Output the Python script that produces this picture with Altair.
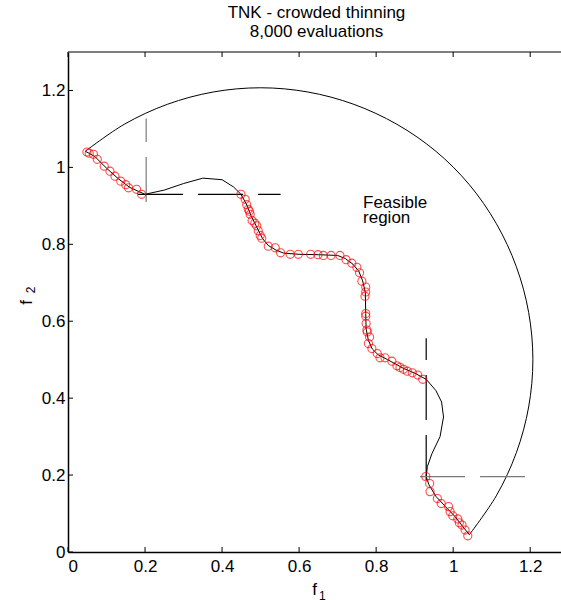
import altair as alt
import pandas as pd

# ---------------- data ----------------
TITLE = ["TNK - crowded thinning", "8,000 evaluations"]
X_TITLE, X_SUB = "f", "1"
Y_TITLE, Y_SUB = "f", "2"
REGION_TEXT = ["Feasible", "region"]
TICKS = [0, 0.2, 0.4, 0.6, 0.8, 1.0, 1.2]

# outer boundary of the feasible region (arc)
arc_f1 = [0.045, 0.146, 0.258, 0.377, 0.500, 0.623, 0.742, 0.854, 0.955,
          1.042, 1.112, 1.164, 1.196, 1.207, 1.196, 1.164, 1.112, 1.042]
arc_f2 = [1.042, 1.112, 1.164, 1.196, 1.207, 1.196, 1.164, 1.112, 1.042,
          0.955, 0.854, 0.742, 0.623, 0.500, 0.377, 0.258, 0.146, 0.045]

# inner (wavy) constraint boundary
bnd_f1 = [0.045, 0.070, 0.100, 0.130, 0.160, 0.200, 0.250, 0.300, 0.350, 0.400,
          0.430, 0.449, 0.463, 0.475, 0.490, 0.505, 0.520, 0.540, 0.560, 0.600,
          0.650, 0.700, 0.720, 0.740, 0.755, 0.765, 0.772, 0.773, 0.774, 0.780,
          0.790, 0.805, 0.830, 0.870, 0.900, 0.930, 0.955, 0.970, 0.975, 0.966,
          0.945, 0.933, 0.930, 0.937, 0.955, 0.980, 1.005, 1.025, 1.042]
bnd_f2 = [1.042, 1.028, 0.998, 0.971, 0.948, 0.930, 0.941, 0.958, 0.972, 0.968,
          0.949, 0.930, 0.905, 0.875, 0.845, 0.815, 0.797, 0.785, 0.777, 0.774,
          0.773, 0.771, 0.763, 0.748, 0.730, 0.705, 0.675, 0.620, 0.580, 0.550,
          0.528, 0.513, 0.500, 0.478, 0.465, 0.449, 0.420, 0.390, 0.351, 0.300,
          0.256, 0.222, 0.196, 0.175, 0.145, 0.118, 0.092, 0.066, 0.045]

# obtained solutions (red circles)
pts_f1 = [0.049, 0.055, 0.066, 0.076, 0.094, 0.109, 0.122, 0.137, 0.150, 0.157,
          0.178, 0.191,
          0.449, 0.460, 0.464, 0.468, 0.471, 0.473, 0.478, 0.485, 0.490, 0.494,
          0.499, 0.503, 0.520, 0.538, 0.552, 0.577, 0.598, 0.630, 0.649, 0.663,
          0.683, 0.706, 0.722, 0.737, 0.750, 0.757, 0.763, 0.773, 0.773, 0.771,
          0.773, 0.773, 0.774, 0.776, 0.777, 0.783, 0.780, 0.789, 0.803, 0.810,
          0.823, 0.841, 0.854, 0.862, 0.871, 0.881, 0.894, 0.908, 0.921,
          0.929, 0.939, 0.940, 0.959, 0.969, 0.988, 0.992, 0.999, 1.012, 1.016,
          1.023, 1.031, 1.038]
pts_f2 = [1.040, 1.037, 1.034, 1.021, 1.003, 0.990, 0.977, 0.964, 0.955, 0.947,
          0.943, 0.930,
          0.930, 0.917, 0.903, 0.891, 0.886, 0.878, 0.862, 0.855, 0.848, 0.835,
          0.823, 0.816, 0.795, 0.791, 0.778, 0.774, 0.774, 0.774, 0.773, 0.771,
          0.771, 0.771, 0.760, 0.751, 0.740, 0.726, 0.704, 0.689, 0.676, 0.665,
          0.620, 0.613, 0.594, 0.577, 0.572, 0.559, 0.542, 0.529, 0.516, 0.505,
          0.505, 0.496, 0.484, 0.480, 0.475, 0.470, 0.466, 0.460, 0.449,
          0.196, 0.178, 0.157, 0.139, 0.126, 0.118, 0.105, 0.094, 0.086, 0.076,
          0.070, 0.057, 0.042]

# dashed guide lines (start, end)
dash_seg = ["v1", "h1", "v2", "h2"]
dash_f1a = [0.203, 0.182, 0.930, 0.914]
dash_f2a = [0.910, 0.930, 0.187, 0.196]
dash_f1b = [0.203, 0.552, 0.930, 1.187]
dash_f2b = [1.127, 0.930, 0.556, 0.196]
dash_col = ["#7a7a7a", "#000000", "#000000", "#7a7a7a"]

# ---------------- tables ----------------
arc_df = pd.DataFrame({"f1": arc_f1, "f2": arc_f2, "i": range(len(arc_f1))})
bnd_df = pd.DataFrame({"f1": bnd_f1, "f2": bnd_f2, "i": range(len(bnd_f1))})
pts_df = pd.DataFrame({"f1": pts_f1, "f2": pts_f2})
rows = []
for s, xa, ya, xb, yb in zip(dash_seg, dash_f1a, dash_f2a, dash_f1b, dash_f2b):
    rows.append({"seg": s, "f1": xa, "f2": ya, "i": 0})
    rows.append({"seg": s, "f1": xb, "f2": yb, "i": 1})
dash_df = pd.DataFrame(rows)

XMAX, YMAX = 1.28, 1.3
TL = 0.013  # inward tick length in data units
tick_rows = []
for t in TICKS:
    tick_rows.append({"x": t, "x2": t, "y": 0, "y2": TL})
    tick_rows.append({"x": t, "x2": t, "y": YMAX - TL, "y2": YMAX})
    tick_rows.append({"x": 0, "x2": TL, "y": t, "y2": t})
tick_df = pd.DataFrame(tick_rows)
frame_df = pd.DataFrame({"x": [0], "x2": [XMAX], "y": [YMAX], "y2": [YMAX]})

FONT = "Liberation Sans"
FS = 17
xscale = alt.Scale(domain=[0, XMAX], nice=False, zero=False)
yscale = alt.Scale(domain=[0, YMAX], nice=False, zero=False)
xaxis = alt.Axis(values=TICKS, format="~g", title=X_TITLE, ticks=False,
                 domainColor="black", domainWidth=1.5, labelPadding=6,
                 titleX=246, titleY=42, titleBaseline="alphabetic",
                 titleAlign="center")
yaxis = alt.Axis(values=TICKS, format="~g", title=Y_TITLE, ticks=False,
                 domainColor="black", domainWidth=1.5, labelPadding=3,
                 titleX=-37, titleY=250, titleAngle=270,
                 titleBaseline="alphabetic", titleAlign="center")


def X(field="f1"):
    return alt.X(f"{field}:Q", scale=xscale, axis=xaxis)


def Y(field="f2"):
    return alt.Y(f"{field}:Q", scale=yscale, axis=yaxis)


arc = alt.Chart(arc_df).mark_line(color="black", strokeWidth=1,
                                  interpolate="catmull-rom").encode(
    x=X(), y=Y(), order="i:Q")
bnd = alt.Chart(bnd_df).mark_line(color="black", strokeWidth=1).encode(
    x=X(), y=Y(), order="i:Q")
dash = alt.Chart(dash_df).mark_line(strokeWidth=1.2, strokeDash=[45, 15]).encode(
    x=X(), y=Y(), order="i:Q",
    color=alt.Color("seg:N", scale=alt.Scale(domain=dash_seg, range=dash_col),
                    legend=None))
pts = alt.Chart(pts_df).mark_point(shape="circle", filled=False, color="#ff0000",
                                   size=66, strokeWidth=1.1).encode(x=X(), y=Y())
ticks = alt.Chart(tick_df).mark_rule(color="black", strokeWidth=1).encode(
    x=X("x"), x2="x2:Q", y=Y("y"), y2="y2:Q")
frame = alt.Chart(frame_df).mark_rule(color="black", strokeWidth=1.2).encode(
    x=X("x"), x2="x2:Q", y=Y("y"))
region = alt.Chart(pd.DataFrame({"f1": [0.766], "f2": [0.894],
                                 "t": ["\n".join(REGION_TEXT)]})).mark_text(
    align="left", baseline="alphabetic", fontSize=FS, font=FONT, color="black",
    lineBreak="\n", lineHeight=15).encode(x=X(), y=Y(), text="t:N")

# subscripts of the axis titles
xsub = alt.Chart(pd.DataFrame({"t": [X_SUB]})).mark_text(
    align="left", baseline="alphabetic", fontSize=12, font=FONT,
    color="black").encode(x=alt.value(251), y=alt.value(548), text="t:N")
ysub = alt.Chart(pd.DataFrame({"t": [Y_SUB]})).mark_text(
    align="center", baseline="alphabetic", angle=270, fontSize=12, font=FONT,
    color="black").encode(x=alt.value(-33), y=alt.value(238), text="t:N")

chart = alt.layer(arc, bnd, dash, pts, ticks, frame, region, xsub, ysub).properties(
    width=493, height=500,
    autosize=alt.AutoSizeParams(type="none"),
    padding={"left": 68, "top": 52, "right": 0, "bottom": 48},
    title=alt.TitleParams(TITLE, fontSize=FS, font=FONT, fontWeight="normal",
                          anchor="middle", baseline="alphabetic", offset=15,
                          lineHeight=19, dx=2, dy=18, color="black"),
    background="white",
).configure_axis(
    grid=False, labelFont=FONT, labelFontSize=FS, labelColor="black",
    titleFont=FONT, titleFontSize=FS, titleFontWeight="normal", titleColor="black",
).configure_view(stroke=None)

chart.save("out.html", embed_options={"renderer": "svg", "actions": False})
